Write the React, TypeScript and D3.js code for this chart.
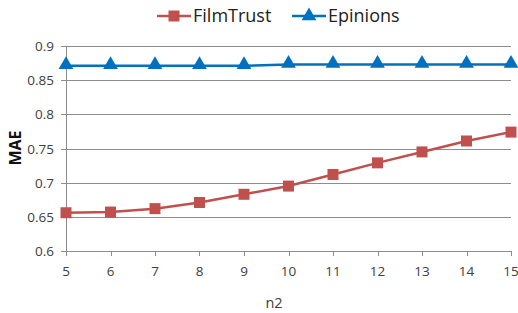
import React, { useEffect, useRef } from 'react';
import * as d3 from 'd3';

const n2Values = [5, 6, 7, 8, 9, 10, 11, 12, 13, 14, 15];
const filmTrust = [0.656, 0.657, 0.662, 0.671, 0.683, 0.695, 0.712, 0.729, 0.745, 0.761, 0.774];
const epinions = [0.871, 0.871, 0.871, 0.871, 0.871, 0.873, 0.873, 0.873, 0.873, 0.873, 0.873];
const yTicks = [0.6, 0.65, 0.7, 0.75, 0.8, 0.85, 0.9];

const width = 518;
const height = 313;
const font = '"Open Sans", "Liberation Sans", sans-serif';

const App: React.FC = () => {
  const svgRef = useRef<SVGSVGElement | null>(null);

  useEffect(() => {
    if (!svgRef.current) return;
    const svg = d3.select(svgRef.current);
    svg.selectAll('*').remove();

    const x = d3.scaleLinear().domain([5, 15]).range([66, 511]);
    const y = d3.scaleLinear().domain([0.6, 0.9]).range([251, 46]);
    const gridColor = '#8c8c8c';

    // horizontal grid
    svg
      .append('g')
      .selectAll('line')
      .data(yTicks)
      .join('line')
      .attr('x1', 61)
      .attr('x2', 511)
      .attr('y1', d => Math.round(y(d)) + 0.5)
      .attr('y2', d => Math.round(y(d)) + 0.5)
      .attr('stroke', gridColor)
      .attr('stroke-width', 1);

    // y axis line
    svg
      .append('line')
      .attr('x1', 66.5)
      .attr('x2', 66.5)
      .attr('y1', 46)
      .attr('y2', 256)
      .attr('stroke', gridColor);

    // x ticks
    svg
      .append('g')
      .selectAll('line')
      .data(n2Values)
      .join('line')
      .attr('x1', d => Math.round(x(d)) + 0.5)
      .attr('x2', d => Math.round(x(d)) + 0.5)
      .attr('y1', 251)
      .attr('y2', 256)
      .attr('stroke', gridColor);

    svg
      .append('g')
      .selectAll('text')
      .data(yTicks)
      .join('text')
      .attr('x', 54)
      .attr('y', d => y(d) + 5)
      .attr('text-anchor', 'end')
      .attr('font-family', font)
      .attr('font-size', 13.5)
      .attr('fill', '#404040')
      .text(d => String(d));

    svg
      .append('g')
      .selectAll('text')
      .data(n2Values)
      .join('text')
      .attr('x', d => x(d))
      .attr('y', 276)
      .attr('text-anchor', 'middle')
      .attr('font-family', font)
      .attr('font-size', 13.5)
      .attr('fill', '#404040')
      .text(d => String(d));

    svg
      .append('text')
      .attr('x', 274)
      .attr('y', 308)
      .attr('text-anchor', 'middle')
      .attr('font-family', font)
      .attr('font-size', 14.5)
      .attr('fill', '#404040')
      .text('n2');

    svg
      .append('text')
      .attr('transform', 'translate(21,148) rotate(-90)')
      .attr('text-anchor', 'middle')
      .attr('font-family', font)
      .attr('font-size', 16)
      .attr('font-weight', 'bold')
      .attr('fill', '#111')
      .text('MAE');

    const red = '#c0504d';
    const blue = '#0070c0';

    const line = d3
      .line<number>()
      .x((_, i) => x(n2Values[i]))
      .y(d => y(d));

    svg.append('path').datum(filmTrust).attr('d', line).attr('fill', 'none').attr('stroke', red).attr('stroke-width', 2.5);
    svg.append('path').datum(epinions).attr('d', line).attr('fill', 'none').attr('stroke', blue).attr('stroke-width', 2.5);

    const square = d3.symbol().type(d3.symbolSquare).size(121);
    const tri = d3.symbol().type(d3.symbolTriangle).size(95);

    svg
      .append('g')
      .selectAll('path')
      .data(filmTrust)
      .join('path')
      .attr('transform', (d, i) => `translate(${x(n2Values[i])},${y(d)})`)
      .attr('d', square)
      .attr('fill', red);

    svg
      .append('g')
      .selectAll('path')
      .data(epinions)
      .join('path')
      .attr('transform', (d, i) => `translate(${x(n2Values[i])},${y(d) - 1})`)
      .attr('d', tri)
      .attr('fill', blue);

    // legend
    const legend = [
      { name: 'FilmTrust', color: red, sym: square, x: 157 },
      { name: 'Epinions', color: blue, sym: tri, x: 292 },
    ];
    const lg = svg.append('g');
    legend.forEach(l => {
      lg.append('line')
        .attr('x1', l.x)
        .attr('x2', l.x + 34)
        .attr('y1', 16)
        .attr('y2', 16)
        .attr('stroke', l.color)
        .attr('stroke-width', 2.5);
      lg.append('path')
        .attr('transform', `translate(${l.x + 17},16)`)
        .attr('d', l.sym)
        .attr('fill', l.color);
      lg.append('text')
        .attr('x', l.x + 36)
        .attr('y', 22)
        .attr('font-family', font)
        .attr('font-size', 18)
        .attr('fill', '#222')
        .text(l.name);
    });
  }, []);

  return (
    <svg
      ref={svgRef}
      width={width}
      height={height}
      style={{ position: 'absolute', left: 0, top: 0, background: '#fff' }}
    />
  );
};

export default App;
